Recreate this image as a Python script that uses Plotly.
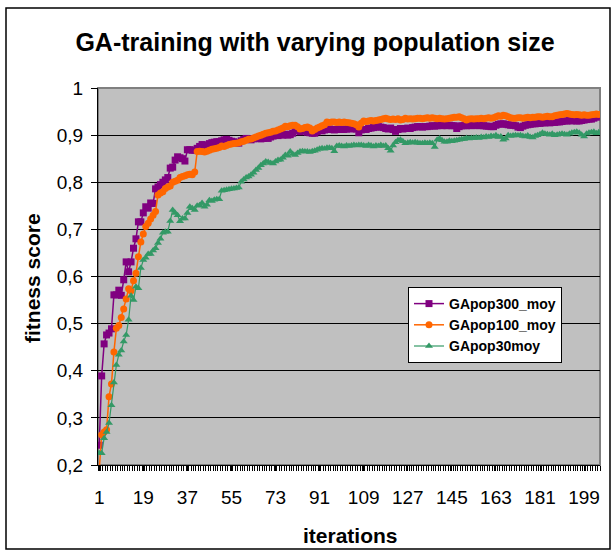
import plotly.graph_objects as go

iterations = list(range(1, 206))

gapop300_moy = [
    0.242, 0.389, 0.457, 0.476, 0.480, 0.489, 0.561, 0.561, 0.571, 0.560,
    0.593, 0.631, 0.610, 0.631, 0.660, 0.680, 0.716, 0.716, 0.735, 0.748,
    0.745, 0.756, 0.755, 0.786, 0.790, 0.795, 0.800, 0.805, 0.810, 0.830,
    0.832, 0.847, 0.854, 0.852, 0.850, 0.845, 0.869, 0.869, 0.868, 0.868,
    0.872, 0.876, 0.880, 0.879, 0.878, 0.882, 0.884, 0.885, 0.886, 0.886,
    0.888, 0.890, 0.891, 0.889, 0.887, 0.886, 0.884, 0.883, 0.888, 0.891,
    0.893, 0.892, 0.890, 0.892, 0.893, 0.894, 0.892, 0.893, 0.894, 0.893,
    0.896, 0.898, 0.900, 0.899, 0.901, 0.900, 0.902, 0.900, 0.901, 0.904,
    0.911, 0.910, 0.907, 0.909, 0.909, 0.906, 0.905, 0.904, 0.904, 0.907,
    0.910, 0.909, 0.911, 0.912, 0.913, 0.912, 0.911, 0.912, 0.913, 0.912,
    0.912, 0.913, 0.914, 0.913, 0.914, 0.913, 0.905, 0.911, 0.912, 0.912,
    0.914, 0.915, 0.916, 0.917, 0.918, 0.917, 0.916, 0.914, 0.913, 0.915,
    0.912, 0.908, 0.912, 0.914, 0.913, 0.914, 0.915, 0.914, 0.916, 0.917,
    0.918, 0.918, 0.917, 0.918, 0.918, 0.919, 0.920, 0.919, 0.920, 0.921,
    0.920, 0.921, 0.920, 0.921, 0.920, 0.920, 0.914, 0.918, 0.920, 0.920,
    0.920, 0.921, 0.920, 0.921, 0.921, 0.920, 0.921, 0.920, 0.919, 0.919,
    0.918, 0.918, 0.921, 0.923, 0.924, 0.924, 0.923, 0.922, 0.921, 0.921,
    0.920, 0.917, 0.916, 0.919, 0.921, 0.922, 0.923, 0.924, 0.924, 0.925,
    0.925, 0.926, 0.926, 0.927, 0.926, 0.927, 0.927, 0.928, 0.928, 0.929,
    0.930, 0.930, 0.931, 0.930, 0.931, 0.930, 0.930, 0.931, 0.932, 0.933,
    0.934, 0.934, 0.936, 0.938, 0.941,
]

gapop100_moy = [
    0.190, 0.264, 0.270, 0.275, 0.345, 0.372, 0.440, 0.490, 0.496, 0.513,
    0.531, 0.552, 0.574, 0.570, 0.591, 0.607, 0.642, 0.673, 0.690, 0.706,
    0.713, 0.722, 0.730, 0.738, 0.773, 0.777, 0.780, 0.787, 0.790, 0.792,
    0.800, 0.802, 0.804, 0.810, 0.812, 0.814, 0.816, 0.817, 0.816, 0.822,
    0.865, 0.866, 0.865, 0.864, 0.866, 0.868, 0.870, 0.871, 0.872, 0.874,
    0.877, 0.876, 0.878, 0.880, 0.881, 0.882, 0.883, 0.884, 0.886, 0.887,
    0.889, 0.891, 0.892, 0.894, 0.896, 0.898, 0.900, 0.902, 0.904, 0.905,
    0.906, 0.908, 0.909, 0.911, 0.913, 0.915, 0.919, 0.918, 0.920, 0.921,
    0.921, 0.918, 0.913, 0.914, 0.916, 0.917, 0.915, 0.909, 0.912, 0.915,
    0.917, 0.920, 0.922, 0.928, 0.927, 0.928, 0.928, 0.927, 0.928, 0.927,
    0.928, 0.927, 0.926, 0.925, 0.924, 0.922, 0.917, 0.925, 0.930, 0.929,
    0.930, 0.931, 0.930, 0.931, 0.932, 0.933, 0.935, 0.936, 0.934, 0.933,
    0.934, 0.933, 0.935, 0.932, 0.933, 0.936, 0.934, 0.935, 0.934, 0.935,
    0.936, 0.936, 0.935, 0.936, 0.937, 0.936, 0.937, 0.936, 0.935, 0.936,
    0.935, 0.934, 0.935, 0.936, 0.937, 0.938, 0.938, 0.939, 0.937, 0.935,
    0.932, 0.934, 0.935, 0.934, 0.935, 0.935, 0.936, 0.935, 0.936, 0.937,
    0.936, 0.937, 0.939, 0.941, 0.940, 0.942, 0.941, 0.939, 0.937, 0.936,
    0.936, 0.937, 0.937, 0.936, 0.937, 0.938, 0.937, 0.938, 0.938, 0.939,
    0.939, 0.938, 0.939, 0.940, 0.939, 0.939, 0.941, 0.942, 0.943, 0.944,
    0.945, 0.946, 0.945, 0.944, 0.943, 0.944, 0.943, 0.942, 0.943, 0.942,
    0.942, 0.943, 0.944, 0.945, 0.944,
]

gapop30moy = [
    0.225, 0.225, 0.257, 0.270, 0.289, 0.327, 0.375, 0.412, 0.434, 0.443,
    0.462, 0.476, 0.508, 0.559, 0.550, 0.578, 0.575, 0.618, 0.635, 0.640,
    0.648, 0.648, 0.655, 0.660, 0.671, 0.680, 0.693, 0.695, 0.695, 0.718,
    0.741, 0.735, 0.730, 0.717, 0.723, 0.723, 0.735, 0.748, 0.745, 0.741,
    0.750, 0.751, 0.756, 0.748, 0.752, 0.762, 0.760, 0.763, 0.764, 0.764,
    0.782, 0.783, 0.784, 0.785, 0.786, 0.787, 0.788, 0.789, 0.801, 0.806,
    0.810, 0.812, 0.816, 0.820, 0.826, 0.830, 0.836, 0.840, 0.844, 0.843,
    0.841, 0.840, 0.844, 0.847, 0.848, 0.852, 0.858, 0.856, 0.865, 0.860,
    0.858, 0.862, 0.865, 0.866, 0.865, 0.865, 0.864, 0.866, 0.867, 0.869,
    0.871, 0.872, 0.871, 0.873, 0.873, 0.872, 0.866, 0.877, 0.878, 0.877,
    0.876, 0.878, 0.877, 0.878, 0.879, 0.878, 0.879, 0.879, 0.878, 0.877,
    0.879, 0.878, 0.876, 0.878, 0.877, 0.879, 0.877, 0.878, 0.872, 0.867,
    0.878, 0.885, 0.889, 0.890, 0.887, 0.883, 0.884, 0.885, 0.884, 0.885,
    0.884, 0.883, 0.883, 0.884, 0.883, 0.884, 0.883, 0.875, 0.890, 0.893,
    0.889, 0.886, 0.886, 0.888, 0.887, 0.888, 0.889, 0.890, 0.891, 0.892,
    0.894, 0.893, 0.894, 0.894, 0.895, 0.894, 0.896, 0.895, 0.897, 0.896,
    0.898, 0.897, 0.900, 0.896, 0.897, 0.890, 0.893, 0.900, 0.898, 0.899,
    0.900, 0.899, 0.900, 0.898, 0.897, 0.899, 0.896, 0.895, 0.898, 0.900,
    0.902, 0.905, 0.903, 0.902, 0.901, 0.903, 0.900, 0.901, 0.902, 0.903,
    0.902, 0.901, 0.903, 0.905, 0.906, 0.907, 0.905, 0.901, 0.897, 0.903,
    0.905, 0.906, 0.907, 0.904, 0.906,
]

x_tick_vals = [1, 19, 37, 55, 73, 91, 109, 127, 145, 163, 181, 199]
y_tick_vals = [0.2, 0.3, 0.4, 0.5, 0.6, 0.7, 0.8, 0.9, 1.0]
y_tick_text = ["0,2", "0,3", "0,4", "0,5", "0,6", "0,7", "0,8", "0,9", "1"]

FONT = "Arial, Liberation Sans, sans-serif"

fig = go.Figure()
fig.add_trace(go.Scatter(
    x=iterations, y=gapop300_moy, name="GApop300_moy", mode="lines+markers",
    line=dict(color="#800080", width=1.5),
    marker=dict(symbol="square", size=7, color="#800080", line=dict(width=0)),
))
fig.add_trace(go.Scatter(
    x=iterations, y=gapop100_moy, name="GApop100_moy", mode="lines+markers",
    line=dict(color="#FF6600", width=1.5),
    marker=dict(symbol="circle", size=7, color="#FF6600", line=dict(width=0)),
))
fig.add_trace(go.Scatter(
    x=iterations, y=gapop30moy, name="GApop30moy", mode="lines+markers",
    line=dict(color="#339966", width=1.2),
    marker=dict(symbol="triangle-up", size=7, color="#339966", line=dict(width=0)),
))

W, H = 613, 552
L, R, T, B = 98, 13, 88, 87
pw, ph = W - L - R, H - T - B

def px_x(p):
    return (p - L) / pw

def px_y(p):
    return 1 - (p - T) / ph

fig.update_layout(
    width=W, height=H,
    margin=dict(l=L, r=R, t=T, b=B),
    paper_bgcolor="white",
    plot_bgcolor="#C0C0C0",
    font=dict(family=FONT, color="black", size=19),
    title=dict(
        text="<b>GA-training with varying population size</b>",
        font=dict(size=25, family=FONT, color="black"),
        x=315 / W, xref="container", xanchor="center",
        y=1 - 42 / H, yref="container", yanchor="middle",
    ),
    showlegend=True,
    legend=dict(
        x=px_x(408), y=px_y(287), xanchor="left", yanchor="top",
        bgcolor="white", bordercolor="black", borderwidth=1,
        font=dict(size=14, family=FONT, color="black", weight="bold"),
        tracegroupgap=0, itemwidth=30,
    ),
    xaxis=dict(
        range=[0.5, 205.5], tickvals=x_tick_vals,
        showgrid=False, zeroline=False,
        showline=True, linecolor="black", linewidth=1,
        ticks="outside", ticklen=5, tickcolor="black",
        ticklabelstandoff=10,
        minor=dict(ticks="outside", dtick=1, tick0=0.5, ticklen=5, tickcolor="black", showgrid=False),
        tickfont=dict(size=19),
    ),
    yaxis=dict(
        range=[0.2, 1.0], tickvals=y_tick_vals, ticktext=y_tick_text,
        showgrid=True, gridcolor="black", gridwidth=1,
        zeroline=False,
        showline=True, linecolor="black", linewidth=1,
        ticks="outside", ticklen=6, tickcolor="black",
        ticklabelstandoff=4,
        tickfont=dict(size=19),
    ),
    shapes=[
        dict(type="rect", xref="paper", yref="paper",
             x0=0, x1=1, y0=0, y1=1,
             line=dict(color="#808080", width=2), layer="below"),
        dict(type="rect", xref="paper", yref="paper",
             x0=px_x(6), x1=px_x(610), y0=px_y(549), y1=px_y(8),
             line=dict(color="black", width=1.5)),
    ],
    annotations=[
        dict(text="<b>fitness score</b>", xref="paper", yref="paper",
             x=px_x(32), y=px_y(278), xanchor="center", yanchor="middle",
             textangle=-90, showarrow=False, font=dict(size=21, family=FONT, color="black")),
        dict(text="<b>iterations</b>", xref="paper", yref="paper",
             x=px_x(350), y=px_y(535), xanchor="center", yanchor="middle",
             showarrow=False, font=dict(size=21, family=FONT, color="black")),
    ],
)

fig.write_html(
    "out.html",
    config={"displayModeBar": False},
    post_script="document.body.style.margin='0';document.body.style.overflow='hidden';",
)
